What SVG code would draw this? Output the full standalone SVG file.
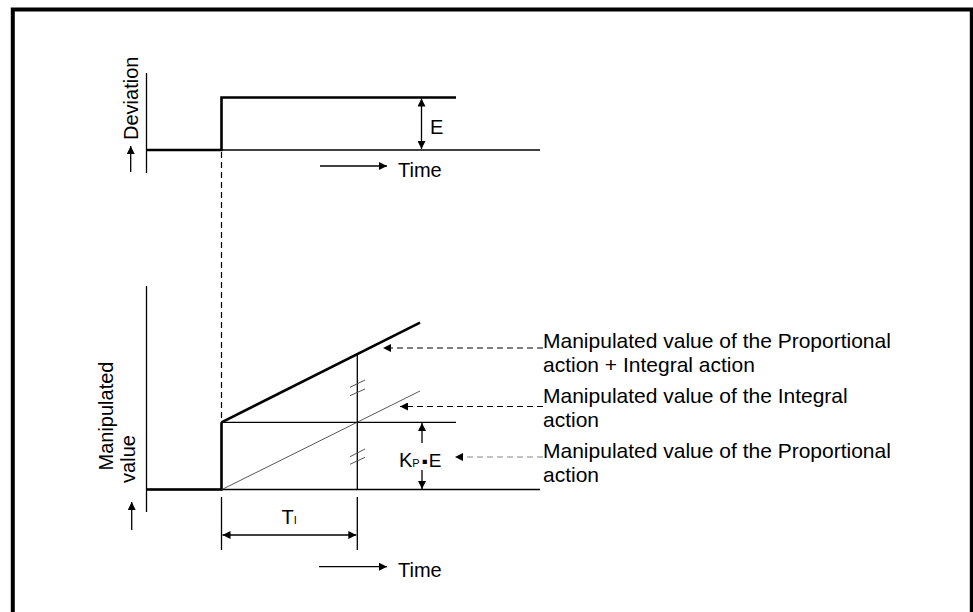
<svg xmlns="http://www.w3.org/2000/svg" width="973" height="612" viewBox="0 0 973 612">
<defs>
<marker id="ah" viewBox="0 0 10 10" refX="10" refY="5" markerWidth="10" markerHeight="8" markerUnits="userSpaceOnUse" orient="auto-start-reverse">
<path d="M0,0 L10,5 L0,10 Z" fill="#000"/>
</marker>
</defs>
<style>
text{font-family:"Liberation Sans",Arial,sans-serif;font-size:20px;fill:#000}
.lbl{font-size:21px}
.ln{stroke:#000;stroke-width:1.3;fill:none}
.bold{stroke:#000;stroke-width:2.6;fill:none}
.thin{stroke:#444;stroke-width:0.9;fill:none}
.dash{stroke:#000;stroke-width:1.2;stroke-dasharray:6,4;fill:none}
.gdash{stroke:#888;stroke-width:1.2;stroke-dasharray:6,4;fill:none}
.arr{marker-end:url(#ah)}
.arr2{marker-start:url(#ah);marker-end:url(#ah)}
</style>
<rect x="0" y="0" width="973" height="612" fill="#fff"/>
<rect x="12.8" y="9.5" width="959" height="640" fill="none" stroke="#000" stroke-width="4"/>

<g id="deviation-graph">
<line class="ln" x1="146.5" y1="73" x2="146.5" y2="173"/>
<line class="ln" x1="146" y1="150" x2="540" y2="150"/>
<polyline class="bold" points="146,150 221.5,150 221.5,97.5 456,97.5"/>
<line class="ln arr2" x1="421.5" y1="98.5" x2="421.5" y2="149"/>
<text x="430" y="134" font-size="21">E</text>
<line class="ln arr" x1="130.7" y1="172" x2="130.7" y2="146"/>
<text transform="translate(138,140) rotate(-90)" font-size="22">Deviation</text>
<line class="ln arr" x1="320" y1="166" x2="387" y2="166"/>
<text x="398" y="177">Time</text>
</g>

<g id="connectors">
<line class="dash" x1="221.5" y1="152" x2="221.5" y2="422"/>
<line class="dash arr" x1="543" y1="348" x2="383" y2="348"/>
<line class="dash arr" x1="543" y1="406.5" x2="400" y2="406.5"/>
<line class="gdash arr" x1="543" y1="457" x2="455" y2="457"/>
</g>

<g id="manipulated-graph">
<line class="ln" x1="146.5" y1="286" x2="146.5" y2="512"/>
<line class="ln" x1="146" y1="489.5" x2="540" y2="489.5"/>
<polyline class="bold" points="146,489.5 221.5,489.5 221.5,422.3"/>
<line class="bold" x1="221.5" y1="422.3" x2="420" y2="322.7"/>
<line class="ln" x1="221.5" y1="422.3" x2="456" y2="422.3"/>
<line class="thin" x1="222" y1="489.5" x2="420" y2="391"/>
<line class="ln" x1="357.3" y1="354.5" x2="357.3" y2="489.5"/>
<line class="thin" x1="350" y1="387.3" x2="365" y2="380"/>
<line class="thin" x1="350" y1="395.7" x2="365" y2="389"/>
<line class="thin" x1="350" y1="456.7" x2="365" y2="449"/>
<line class="thin" x1="350" y1="464.3" x2="365" y2="457.3"/>
<line class="ln arr" x1="422" y1="443" x2="422" y2="423"/>
<line class="ln arr" x1="422" y1="470" x2="422" y2="489"/>
<text x="399" y="466.5" font-size="19">K<tspan font-size="11">P</tspan><tspan font-size="17" dx="2">▪</tspan><tspan dx="1" font-size="19">E</tspan></text>
<line class="ln arr" x1="131.7" y1="530" x2="131.7" y2="502"/>
<text transform="translate(113,416) rotate(-90)" text-anchor="middle" font-size="19">Manipulated</text>
<text transform="translate(135,459) rotate(-90)" text-anchor="middle" font-size="19">value</text>
<line class="ln" x1="221.5" y1="497" x2="221.5" y2="550"/>
<line class="ln" x1="357.3" y1="497" x2="357.3" y2="550"/>
<line class="ln arr2" x1="222.5" y1="535" x2="356.3" y2="535"/>
<text x="281.5" y="524">T<tspan font-size="11">I</tspan></text>
<line class="ln arr" x1="319" y1="566.7" x2="387" y2="566.7"/>
<text x="398" y="577">Time</text>
</g>

<g id="labels">
<text class="lbl" x="543" y="348">Manipulated value of the Proportional</text>
<text class="lbl" x="543" y="372">action + Integral action</text>
<text class="lbl" x="543" y="403">Manipulated value of the Integral</text>
<text class="lbl" x="543" y="427">action</text>
<text class="lbl" x="543" y="458">Manipulated value of the Proportional</text>
<text class="lbl" x="543" y="482">action</text>
</g>
</svg>
